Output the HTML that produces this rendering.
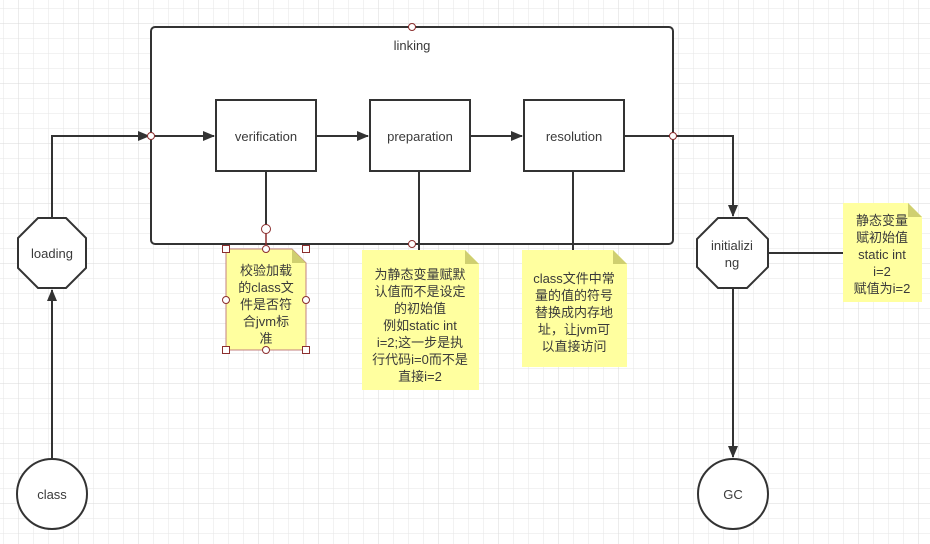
<!DOCTYPE html>
<html><head><meta charset="utf-8"><style>
html,body{margin:0;padding:0;background:#fff;}
svg{display:block;}
text{font-family:"Liberation Sans","Noto Sans CJK SC",sans-serif;fill:#3a3a3a;font-size:13px;}
</style></head><body>
<svg width="930" height="544" viewBox="0 0 930 544" xmlns="http://www.w3.org/2000/svg">
<defs>
<pattern id="g" width="15" height="15" patternUnits="userSpaceOnUse" x="3" y="8">
<path d="M0 0H15M0 0V15" stroke="#e6e6e6" stroke-width="1" fill="none"/>
</pattern>
<pattern id="G" width="60" height="60" patternUnits="userSpaceOnUse" x="18" y="23">
<path d="M0 0H60M0 0V60" stroke="#d9d9d9" stroke-width="1" fill="none"/>
</pattern>
<marker id="a" markerWidth="12" markerHeight="10" refX="11" refY="5" orient="auto" markerUnits="userSpaceOnUse"><path d="M0 0L12 5L0 10Z" fill="#333"/></marker>
</defs>
<rect width="930" height="544" fill="url(#g)"/>
<rect width="930" height="544" fill="url(#G)"/>
<g stroke="#333" stroke-width="2" fill="none">
<rect x="151" y="27" width="522" height="217" rx="4" fill="#fff"/>
<rect x="216" y="100" width="100" height="71" fill="#fff"/>
<rect x="370" y="100" width="100" height="71" fill="#fff"/>
<rect x="524" y="100" width="100" height="71" fill="#fff"/>
<path d="M52 459V290" marker-end="url(#a)"/>
<path d="M52 218V136H149" marker-end="url(#a)"/>
<path d="M151 136H214" marker-end="url(#a)"/>
<path d="M316 136H368" marker-end="url(#a)"/>
<path d="M470 136H522" marker-end="url(#a)"/>
<path d="M624 136H733V216" marker-end="url(#a)"/>
<path d="M733 288V457" marker-end="url(#a)"/>
<path d="M768 253H843"/>
<path d="M266 171V229"/>
<path d="M419 171V250"/>
<path d="M573 171V250"/>
<polygon points="38,218 66,218 86,238 86,268 66,288 38,288 18,268 18,238" fill="#fff"/>
<polygon points="718,218 747,218 768,239 768,267 747,288 718,288 697,267 697,239" fill="#fff"/>
<circle cx="52" cy="494" r="35" fill="#fff"/>
<circle cx="733" cy="494" r="35" fill="#fff"/>
</g>
<g stroke="none">
<path d="M226 249H292L306 263V350H226Z" fill="#ffff9f" stroke="#c38080" stroke-width="1"/>
<path d="M292 249L306 263H292Z" fill="#cfcf70"/>
<path d="M362 250H465L479 264V390H362Z" fill="#ffff9f"/>
<path d="M465 250L479 264H465Z" fill="#cfcf70"/>
<path d="M522 250H613L627 264V367H522Z" fill="#ffff9f"/>
<path d="M613 250L627 264H613Z" fill="#cfcf70"/>
<path d="M843 203H908L922 217V302H843Z" fill="#ffff9f"/>
<path d="M908 203L922 217H908Z" fill="#cfcf70"/>
</g>
<g fill="#fff" stroke="#8b2e2e" stroke-width="1">
<circle cx="412" cy="27" r="3.5"/><circle cx="151" cy="136" r="3.5"/><circle cx="673" cy="136" r="3.5"/><circle cx="412" cy="244" r="3.5"/>
<circle cx="266" cy="229" r="4.5"/>
<circle cx="266" cy="249" r="3.5"/><circle cx="226" cy="300" r="3.5"/><circle cx="306" cy="300" r="3.5"/><circle cx="266" cy="350" r="3.5"/>
<rect x="222.5" y="245.5" width="7" height="7"/><rect x="302.5" y="245.5" width="7" height="7"/>
<rect x="222.5" y="346.5" width="7" height="7"/><rect x="302.5" y="346.5" width="7" height="7"/>
</g>
<line x1="266" y1="233" x2="266" y2="245" stroke="#8b2e2e" stroke-width="1.5"/>
<g text-anchor="middle">
<text x="412" y="50">linking</text>
<text x="266" y="141">verification</text>
<text x="420" y="141">preparation</text>
<text x="574" y="141">resolution</text>
<text x="52" y="258">loading</text>
<text x="732" y="250">initializi</text>
<text x="732" y="267">ng</text>
<text x="52" y="499">class</text>
<text x="733" y="499">GC</text>
<g font-size="13">
<text x="266" y="275">校验加载</text><text x="266" y="292">的class文</text><text x="266" y="309">件是否符</text><text x="266" y="326">合jvm标</text><text x="266" y="343">准</text>
<text x="420" y="279">为静态变量赋默</text><text x="420" y="296">认值而不是设定</text><text x="420" y="313">的初始值</text><text x="420" y="330">例如static int</text><text x="420" y="347">i=2;这一步是执</text><text x="420" y="364">行代码i=0而不是</text><text x="420" y="381">直接i=2</text>
<text x="574" y="283">class文件中常</text><text x="574" y="300">量的值的符号</text><text x="574" y="317">替换成内存地</text><text x="574" y="334">址，让jvm可</text><text x="574" y="351">以直接访问</text>
<text x="882" y="225">静态变量</text><text x="882" y="242">赋初始值</text><text x="882" y="259">static int</text><text x="882" y="276">i=2</text><text x="882" y="293">赋值为i=2</text>
</g>
</g>
</svg>
</body></html>
